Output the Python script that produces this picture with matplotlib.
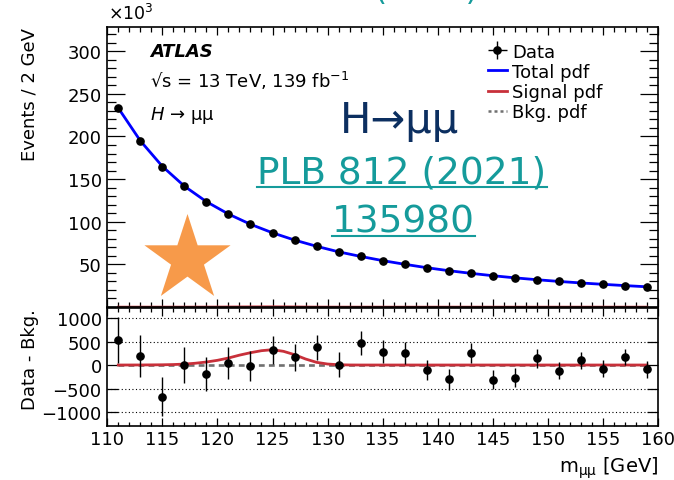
import numpy as np
import matplotlib
matplotlib.use("Agg")
import matplotlib.pyplot as plt
from matplotlib.patches import Polygon
from matplotlib.lines import Line2D
from matplotlib.ticker import MultipleLocator, FixedLocator

# ---------------- data ----------------
mass = [111, 113, 115, 117, 119, 121, 123, 125, 127, 129, 131, 133, 135,
        137, 139, 141, 143, 145, 147, 149, 151, 153, 155, 157, 159]
events_k = [233.5, 194.8, 164.4, 141.8, 123.4, 109.0, 96.9, 87.1, 78.1, 71.1,
            64.1, 59.4, 54.0, 50.0, 45.8, 42.3, 39.9, 36.4, 34.1, 32.1,
            30.1, 28.6, 26.6, 25.1, 23.5]
total_pdf_k = [233.3, 194.9, 164.9, 141.7, 123.5, 109.0, 97.0, 87.0, 78.5, 71.2,
               64.7, 59.3, 54.4, 50.1, 46.1, 42.6, 39.5, 36.7, 34.2, 32.0,
               30.0, 28.2, 26.6, 25.1, 23.7]
resid = [525, 184, -674, 0, -184, 50, -21, 312, 163, 376, 7, 461, 284,
         262, -106, -305, 262, -312, -270, 142, -121, 106, -78, 170, -92]
resid_err = [489, 447, 411, 383, 362, 337, 316, 301, 291, 273, 262, 255, 241,
             238, 223, 216, 213, 202, 199, 195, 184, 181, 181, 177, 174]
sig_mass = [111, 113, 115, 116, 117, 118, 119, 120, 121, 122, 123, 124, 125,
            126, 127, 128, 129, 130, 131, 132, 133, 159]
sig_vals = [0, 1, 5, 10, 20, 38, 64, 100, 149, 210, 262, 305, 326,
            291, 220, 128, 57, 21, 6, 1, 0, 0]
bkg_resid = [0] * len(mass)

legend_labels = ["Data", "Total pdf", "Signal pdf", "Bkg. pdf"]
y_ticks_top = [50, 100, 150, 200, 250, 300]
y_ticks_bot = [-1000, -500, 0, 500, 1000]

# ---------------- styling ----------------
W, H = 674, 481
RED = "#c8303a"
BLUE = "#0000ff"
GRAY = "#707070"
TEAL = "#159b9b"
NAVY = "#0c2f60"
ORANGE = "#f79a4a"

plt.rcParams["font.family"] = ["DejaVu Sans"]
plt.rcParams["axes.linewidth"] = 1.2

fig = plt.figure(figsize=(W / 100, H / 100), dpi=100)


def fx(px):
    return px / W


def fy(py):
    return 1 - py / H


L, R = 107.3, 658.0
ax1 = fig.add_axes([fx(L), fy(308.0), fx(R) - fx(L), fy(28.3) - fy(308.0)])
ax2 = fig.add_axes([fx(L), fy(426.7), fx(R) - fx(L), fy(309.0) - fy(426.7)])

# ---------------- top panel ----------------
ax1.plot(sig_mass, np.array(sig_vals) / 1000.0, color=RED, lw=1.8, zorder=2, clip_on=False)
ax1.plot(mass, total_pdf_k, color=BLUE, lw=2.0, zorder=3)
ax1.errorbar(mass, events_k, yerr=np.array(resid_err) / 1000.0, fmt="o", color="k",
             ms=5.2, lw=1.0, zorder=4)
ax1.set_xlim(110, 160)
ax1.set_ylim(0, 328)
ax1.xaxis.set_major_locator(MultipleLocator(5))
ax1.xaxis.set_minor_locator(MultipleLocator(1))
ax1.yaxis.set_major_locator(FixedLocator(y_ticks_top))
ax1.yaxis.set_minor_locator(MultipleLocator(10))
ax1.tick_params(which="both", direction="in", top=True, right=True,
                labelbottom=False, width=0.9, labelsize=13, pad=4)
ax1.tick_params(axis="y", which="major", length=13)
ax1.tick_params(axis="y", which="minor", length=6.5)
ax1.tick_params(axis="x", which="major", length=6)
ax1.tick_params(axis="x", which="minor", length=3.3)
ax1.set_ylabel("Events / 2 GeV", fontsize=13, loc="top")
ax1.yaxis.set_label_coords((39 - L) / (R - L), 1.0)

# legend proxies
h_data = ax1.errorbar([np.nan], [np.nan], xerr=[0.5], yerr=[0.5], fmt="o", color="k",
                      ms=5.2, lw=1.0)
h_tot = Line2D([], [], color=BLUE, lw=2.0)
h_sig = Line2D([], [], color=RED, lw=2.0)
h_bkg = Line2D([], [], color=GRAY, lw=1.8, ls=(0, (1.2, 1.2)))
ax1.legend([h_data, h_tot, h_sig, h_bkg], legend_labels, loc="upper left",
           bbox_to_anchor=(fx(488), fy(43.5)), bbox_transform=fig.transFigure,
           frameon=False, fontsize=13, handlelength=1.05, handletextpad=0.3,
           labelspacing=0.12, borderpad=0, borderaxespad=0)

# texts
fig.text(fx(108), fy(20), r"×10$^{\mathregular{3}}$", fontsize=12.5, va="baseline", ha="left")
fig.text(fx(150), fy(57.3), "ATLAS", fontsize=13, fontweight="bold", fontstyle="italic",
         va="baseline", ha="left")
fig.text(fx(150), fy(88.3), r"√s = 13 TeV, 139 fb$^{\mathregular{-1}}$", fontsize=13,
         va="baseline", ha="left")
fig.text(fx(150), fy(120), r"$\it{H}$ → μμ", fontsize=13, va="baseline", ha="left")

fig.text(fx(400), fy(133), "H→μμ", fontsize=30, color=NAVY, va="baseline", ha="center")
t1 = fig.text(fx(402), fy(183.3), "PLB 812 (2021)", fontsize=27, color=TEAL,
              va="baseline", ha="center")
t2 = fig.text(fx(403), fy(232.8), "135980", fontsize=27, color=TEAL,
              va="baseline", ha="center")
fig.text(fx(374), fy(0.5), "(2021)", fontsize=22.5, color=TEAL, va="baseline", ha="left")

# star (decoration)
cx, cy, Ro = 187.5, 260.3, 45.3
Ri = Ro * 0.382
verts = []
for k in range(10):
    ang = np.deg2rad(90 + 36 * k)
    rr = Ro if k % 2 == 0 else Ri
    verts.append((fx(cx + rr * np.cos(ang)), fy(cy - rr * np.sin(ang))))
star = Polygon(verts, closed=True, facecolor=ORANGE, edgecolor="none",
               transform=fig.transFigure, zorder=1)
ax1.add_patch(star)

# ---------------- bottom panel ----------------
for v in [-1000, -500, 500, 1000]:
    ax2.axhline(v, color="k", lw=0.8, ls=(0, (1, 2.2)), zorder=1)
ax2.plot(mass, bkg_resid, color=GRAY, lw=1.9, ls=(0, (2.2, 1.6)), zorder=2)
ax2.plot(sig_mass, sig_vals, color=RED, lw=2.0, zorder=3)
ax2.errorbar(mass, resid, yerr=resid_err, fmt="o", color="k", ms=5.2, lw=1.0, zorder=4)
ax2.set_xlim(110, 160)
ax2.set_ylim(-1291, 1213)
ax2.xaxis.set_major_locator(MultipleLocator(5))
ax2.xaxis.set_minor_locator(MultipleLocator(1))
ax2.yaxis.set_major_locator(FixedLocator(y_ticks_bot))
ax2.tick_params(which="both", direction="in", top=True, right=True, width=0.9,
                labelsize=13, pad=4)
ax2.tick_params(axis="y", which="major", length=8)
ax2.tick_params(axis="x", which="major", length=5.5)
ax2.tick_params(axis="x", which="minor", length=3)
ax2.tick_params(axis="x", pad=3)
ax2.set_ylabel("Data - Bkg.", fontsize=13, loc="top")
ax2.yaxis.set_label_coords((39 - L) / (R - L), 1.0)
ax2.set_xlabel(r"m$_{\mathregular{μμ}}$ [GeV]", fontsize=14, loc="right")
ax2.xaxis.set_label_coords(1.0, (426.7 - 456) / (426.7 - 309.0))

# underlines for the teal reference text
fig.canvas.draw()
rend = fig.canvas.get_renderer()
for t, base in [(t1, 183.3), (t2, 232.8)]:
    bb = t.get_window_extent(rend)
    yl = fy(base + 4.4)
    fig.add_artist(Line2D([bb.x0 / W, bb.x1 / W], [yl, yl], color=TEAL, lw=1.5,
                          transform=fig.transFigure))

fig.savefig("out.png", dpi=100)
